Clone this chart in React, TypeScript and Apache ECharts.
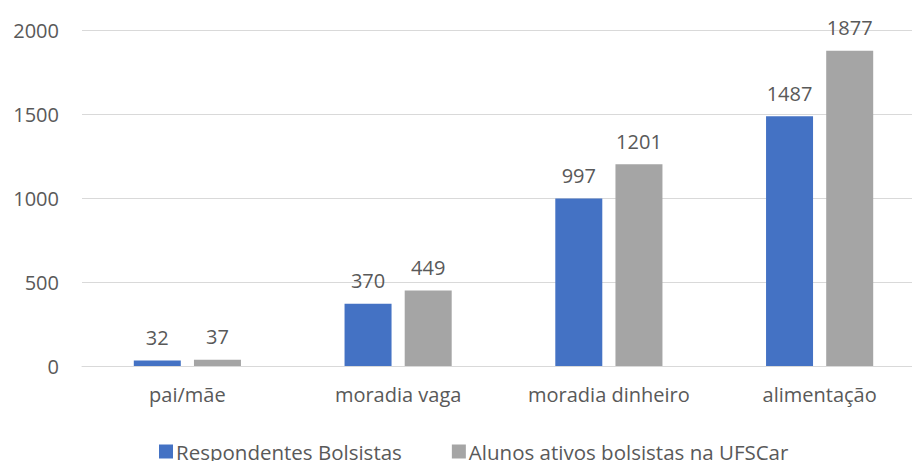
import React, { useEffect, useRef } from "react";
import * as echarts from "echarts";

const categories = ["pai/mãe", "moradia vaga", "moradia dinheiro", "alimentação"];
const seriesNames = ["Respondentes Bolsistas", "Alunos ativos bolsistas na UFSCar"];
const respondentes = [32, 370, 997, 1487];
const alunosAtivos = [37, 449, 1201, 1877];
const yTicks = { min: 0, max: 2000, interval: 500 };

const FONT = "'Open Sans', sans-serif";
const TEXT = "#595959";

export default function App() {
  const ref = useRef<HTMLDivElement>(null);
  useEffect(() => {
    if (!ref.current) return;
    const chart = echarts.init(ref.current, undefined, { renderer: "svg" });
    const label = {
      show: true,
      position: "top",
      distance: 13,
      color: TEXT,
      fontFamily: FONT,
      fontSize: 20,
    };
    chart.setOption({
      animation: false,
      backgroundColor: "#ffffff",
      textStyle: { fontFamily: FONT },
      grid: { left: 82, right: 0, top: 30, bottom: 95 },
      legend: {
        left: 159,
        top: 441,
        padding: 0,
        itemWidth: 14,
        itemHeight: 14,
        itemGap: 50,
        icon: "rect",
        textStyle: { color: TEXT, fontFamily: FONT, fontSize: 20.5, lineHeight: 18, padding: [0, 0, 0, -2] },
        data: seriesNames,
      },
      xAxis: {
        type: "category",
        data: categories,
        axisLine: { lineStyle: { color: "#D9D9D9", width: 1 } },
        axisTick: { show: false },
        axisLabel: { color: TEXT, fontFamily: FONT, fontSize: 20, margin: 18 },
      },
      yAxis: {
        type: "value",
        min: yTicks.min,
        max: yTicks.max,
        interval: yTicks.interval,
        axisLine: { show: false },
        axisTick: { show: false },
        splitLine: { lineStyle: { color: "#D9D9D9", width: 1 } },
        axisLabel: {
          color: TEXT,
          fontFamily: FONT,
          fontSize: 20,
          margin: 23,
          formatter: (v: number) => String(v),
        },
      },
      series: [
        {
          name: seriesNames[0],
          type: "bar",
          data: respondentes,
          barWidth: 47,
          barGap: "28%",
          itemStyle: { color: "#4472C4" },
          label,
        },
        {
          name: seriesNames[1],
          type: "bar",
          data: alunosAtivos,
          barWidth: 47,
          barGap: "28%",
          itemStyle: { color: "#A5A5A5" },
          label,
        },
      ],
    });
    return () => chart.dispose();
  }, []);
  return (
    <div style={{ position: "fixed", left: 0, top: 0, width: 912, height: 461, overflow: "hidden", background: "#fff" }}>
      <div ref={ref} style={{ width: 925, height: 461 }} />
    </div>
  );
}
